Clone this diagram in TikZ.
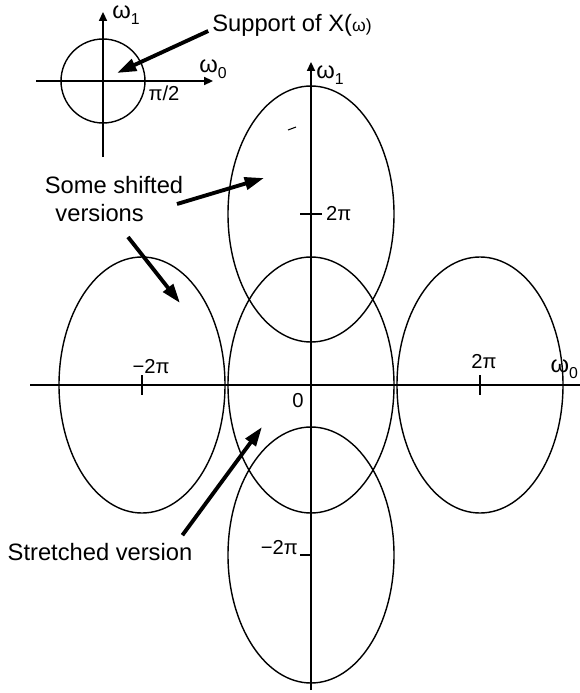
\documentclass[tikz,border=0pt]{standalone}
\usepackage{fontspec}
\setmainfont{Liberation Sans}
\usetikzlibrary{arrows.meta}

\newcommand{\omsub}[1]{ω\raisebox{-0.5ex}{\fontsize{9}{10}\selectfont #1}}

\begin{document}
\begin{tikzpicture}[x=0.02cm, y=-0.02cm,
  every node/.style={text=black, font=\fontsize{13.5}{16}\selectfont, inner sep=1pt},
  axis/.style={-{Triangle[length=5pt,width=4.5pt]}, line width=1pt},
  region/.style={line width=0.8pt},
  pointer/.style={-{Triangle[length=11pt,width=7pt]}, line width=2.2pt},
  ticklbl/.style={font=\fontsize{11.5}{13}\selectfont}]

  \useasboundingbox (0,0) rectangle (580,693);

  %% small inset: support of X(w)
  \draw[region] (103,81) circle [radius=42];
  \draw[axis] (36,81) -- (213,81);
  \draw[axis] (103,157) -- (103,12);
  \node (w1s) at (126,15) {\omsub{1}};
  \node (w0s) at (213,69) {\omsub{0}};
  \node[ticklbl] (pihalf) at (164,93) {π/2};

  \node (supp) at (292,25) {Support of X(\fontsize{10}{12}\selectfont ω)};
  \coordinate (supptip) at (117,73);
  \draw[pointer] (supp.west) ++(-2,6) -- (supptip);

  %% main axes
  \draw[axis] (30,385) -- (590,385);
  \draw[axis] (311,690) -- (311,62);
  \node (w1) at (330,75) {\omsub{1}};
  \node[anchor=east] (w0) at (580,369) {\omsub{0}};

  %% shifted and stretched supports
  \foreach \cx/\cy in {311/385, 311/214, 311/555, 142/385, 480/385}
    \draw[region] (\cx,\cy) ellipse [x radius=83, y radius=128];

  %% ticks
  \draw[line width=0.8pt] (142,375) -- (142,395);
  \draw[line width=0.8pt] (480,375) -- (480,395);
  \draw[line width=0.8pt] (300,214) -- (322,214);
  \draw[line width=0.8pt] (300,555) -- (311,555);
  \draw[line width=0.6pt] (288,130) -- (296,127);

  \node[ticklbl] (mtwopi) at (151,367) {−2π};
  \node[ticklbl] (twopi)  at (484,362) {2π};
  \node[ticklbl] (zero)   at (298,401) {0};
  \node[ticklbl, anchor=west] (twopiv)  at (324,214) {2π};
  \node[ticklbl, anchor=east] (mtwopiv) at (300,548) {−2π};

  %% labels with pointers
  \node[align=left] (shifted) at (114,199) {Some shifted\\\hspace{0.45em}versions};
  \coordinate (shstart1) at (177,204);
  \coordinate (shtip1) at (264,178);
  \coordinate (shstart2) at (128,237);
  \coordinate (shtip2) at (180,303);
  \draw[pointer] (shstart1) -- (shtip1);
  \draw[pointer] (shstart2) -- (shtip2);

  \node (stretch) at (100,552) {Stretched version};
  \coordinate (sttip) at (262,427);
  \draw[pointer] (stretch.north east) ++(-12,-6) -- (sttip);

\end{tikzpicture}
\end{document}
